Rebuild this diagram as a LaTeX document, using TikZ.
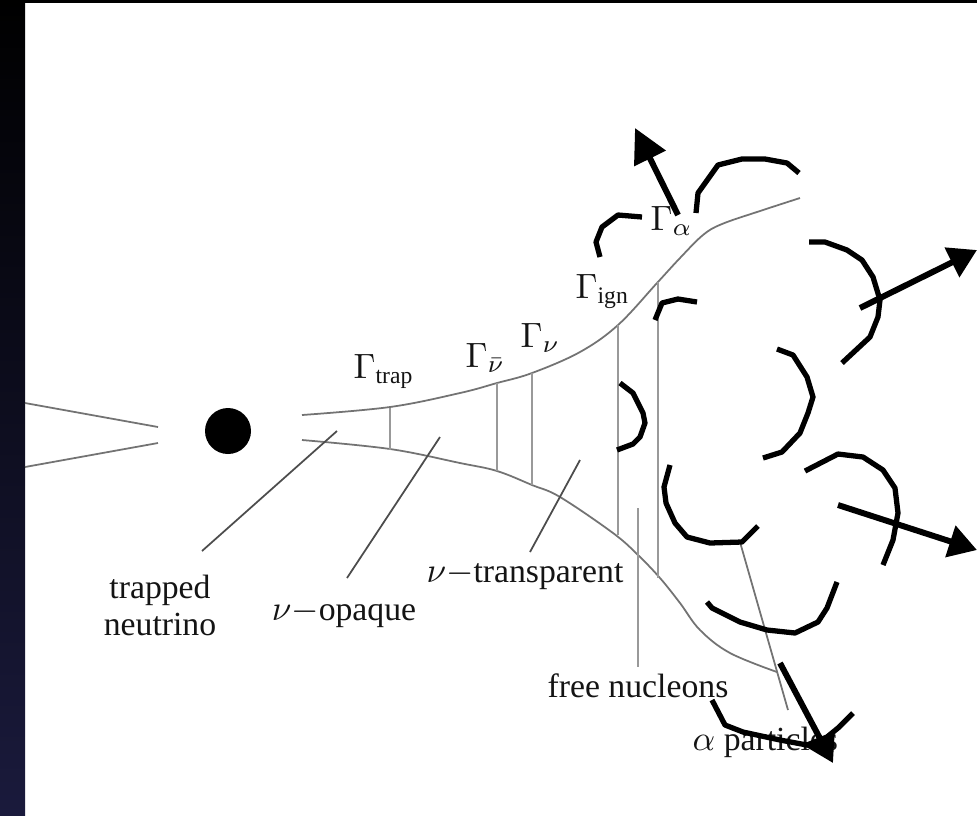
\documentclass[tikz,border=0pt]{standalone}
\usepackage{fontspec}
\setmainfont{Liberation Serif}
\usetikzlibrary{arrows.meta,positioning}
\definecolor{leiste}{RGB}{26,26,60}

\begin{document}
\begin{tikzpicture}[x=0.1mm,y=-0.1mm,
  kurve/.style={black!55,line width=0.5pt},
  grenze/.style={black!40,line width=0.7pt},
  zeiger/.style={black!70,line width=0.5pt},
  wolke/.style={black,line width=1.5pt,line join=round},
  pfeil/.style={black,line width=1.7pt,-{Triangle[length=2.8mm,width=3.2mm]}},
  every node/.style={text=black!92,inner sep=0pt,font=\fontsize{9.6}{10.6}\selectfont}]
%Hintergrund mit dunkler Leiste links
\useasboundingbox (0,0) rectangle (977,815);
\fill[white] (0,0) rectangle (977,815);
\shade[top color=black,bottom color=leiste] (0,0) rectangle (25,815);
\fill[black] (0,0) rectangle (977,3);
%Trichter links und Kern
\draw[kurve] (25,403) -- (158,427);
\draw[kurve] (25,467) -- (158,443);
\node[circle,fill=black,minimum size=4.6mm] (kern) at (228,431) {};
%obere und untere Begrenzung
\draw[kurve] plot[smooth,tension=0.6] coordinates {(302,415) (390,407) (460,393) (497,383) (532,373) (580,352) (618,325) (657,283) (680,258) (703,235) (722,224) (760,211) (800,198)};
\draw[kurve] plot[smooth,tension=0.6] coordinates {(302,440) (390,449) (460,463) (497,471) (532,485) (560,497) (613,533) (638,555) (660,578) (680,603) (700,630) (730,653) (777,672)};
%Radien als senkrechte Striche
\foreach \x/\oben/\unten in {390/408/450, 497/383/471, 532/373/485, 618/325/535, 658/282/578, 638/508/667}
  \draw[grenze] (\x,\oben) -- (\x,\unten);
\node[anchor=base west] (gtrap) at (353,378) {$\Gamma_{\mathrm{trap}}$};
\node[anchor=base west] (gnubar) at (465,367) {$\Gamma_{\bar\nu}$};
\node[anchor=base west] (gnu) at (520,347) {$\Gamma_{\nu}$};
\node[anchor=base west] (gign) at (575,298) {$\Gamma_{\mathrm{ign}}$};
\node[anchor=base west] (galpha) at (650,230) {$\Gamma_{\alpha}$};
%Beschriftungen mit Zeigern
\node[anchor=north,align=center,font=\fontsize{9.6}{10.5}\selectfont] (trapped) at (160,574) {trapped\\neutrino};
\node[anchor=base] (opaque) at (344,620) {$\nu-$opaque};
\node[anchor=base] (transparent) at (525,582) {$\nu-$transparent};
\node[anchor=base] (nucleons) at (638,697) {free nucleons};
\node[anchor=base west] (alpha) at (692,750) {$\alpha$ particles};
\coordinate (tnfuss) at (202,551);  \coordinate (tnkopf) at (337,431);
\coordinate (opfuss) at (347,578);  \coordinate (opkopf) at (440,437);
\coordinate (trfuss) at (530,552);  \coordinate (trkopf) at (580,460);
\coordinate (alfuss) at (788,710);  \coordinate (alkopf) at (740,542);
\draw[zeiger] (tnfuss) -- (tnkopf);
\draw[zeiger] (opfuss) -- (opkopf);
\draw[zeiger] (trfuss) -- (trkopf);
\draw[kurve] (alfuss) -- (alkopf);
%Wolken von Hand
\draw[wolke] (642,217) -- (618,215) -- (602,227) -- (596,242) -- (600,257);
\draw[wolke] (696,213) -- (698,193) -- (718,165) -- (742,159) -- (765,159) -- (787,163) -- (799,173);
\draw[wolke] (809,242) -- (825,242) -- (847,250) -- (862,260) -- (873,277) -- (880,300) -- (878,317) -- (870,337) -- (842,363);
\draw[wolke] (697,302) -- (678,299) -- (662,303) -- (655,320);
\draw[wolke] (777,349) -- (793,355) -- (807,377) -- (813,397) -- (808,413) -- (800,433) -- (782,452) -- (763,458);
\draw[wolke] (620,383) -- (633,393) -- (643,413) -- (645,423) -- (640,437) -- (633,444) -- (617,450);
\draw[wolke] (670,465) -- (664,487) -- (666,503) -- (675,523) -- (687,537) -- (710,543) -- (742,542) -- (758,526);
\draw[wolke] (805,471) -- (838,454) -- (863,457) -- (883,470) -- (895,488) -- (898,513) -- (893,540) -- (883,565);
\draw[wolke] (707,602) -- (712,608) -- (740,622) -- (767,630) -- (795,633) -- (818,622) -- (827,608) -- (837,582);
\draw[wolke] (712,700) -- (725,725) -- (743,732) -- (780,740) -- (807,745) -- (827,737) -- (838,728) -- (853,713);
%Pfeile nach aussen
\draw[pfeil,-{Triangle[length=3.4mm,width=3.4mm]}] (678,215) -- (635,128);
\draw[pfeil] (860,308) -- (977,250);
\draw[pfeil] (838,505) -- (977,550);
\draw[pfeil] (780,663) -- (833,763);
\end{tikzpicture}
\end{document}
